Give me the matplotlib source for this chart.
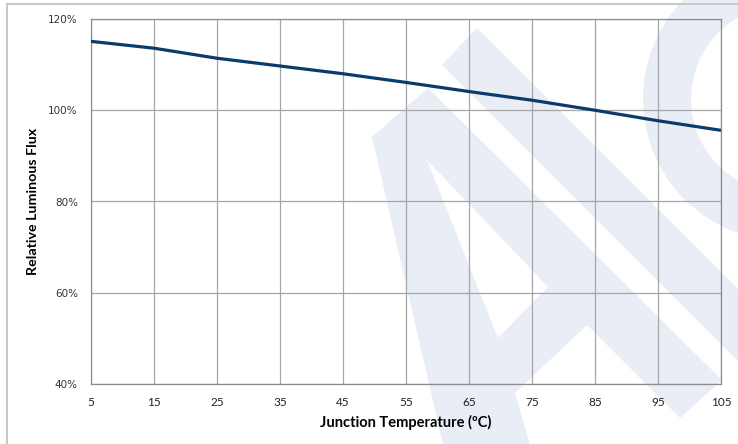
import matplotlib.pyplot as plt
import matplotlib.transforms as mtransforms
from matplotlib.patches import Polygon, Wedge
from matplotlib.lines import Line2D

# junction temperature (deg C) vs relative luminous flux (%)
temps = [5, 15, 25, 35, 45, 55, 65, 75, 85, 95, 105]
flux = [115.1, 113.6, 111.4, 109.7, 108.0, 106.1, 104.1, 102.2, 100.0, 97.7, 95.6]

x_ticks = [5, 15, 25, 35, 45, 55, 65, 75, 85, 95, 105]
y_ticks = [40, 60, 80, 100, 120]

W, H = 738, 444
fig = plt.figure(figsize=(W / 100, H / 100), dpi=100)

# pixel coords (y down) -> figure
px = mtransforms.Affine2D().scale(1 / W, -1 / H).translate(0, 1) + fig.transFigure

wm = "#e8edf6"
# faint logo watermark behind the chart
fig.patches.append(Polygon([(442, 65), (477, 28), (738, 289), (738, 361)],
                           closed=True, transform=px, fc=wm, ec="none", zorder=-2))
fig.patches.append(Polygon([(372, 137), (428, 88), (722, 380), (680, 418), (587, 325),
                            (515, 393), (530, 444), (443, 444)],
                           closed=True, transform=px, fc=wm, ec="none", zorder=-2))
fig.patches.append(Polygon([(427, 160), (548, 287), (498, 338)],
                           closed=True, transform=px, fc="white", ec="none", zorder=-1.5))
fig.patches.append(Wedge((785, 99), 142, 0, 360, width=48, transform=px,
                         fc=wm, ec="none", zorder=-2))

# outer chart border (top and left visible)
fig.lines.append(Line2D([6.5, 738], [4.5, 4.5], transform=px, color="#c9c9c9", lw=1.5))
fig.lines.append(Line2D([6.5, 6.5], [4.5, 444], transform=px, color="#c9c9c9", lw=1.5))

ax = fig.add_axes([91 / W, 1 - 384 / H, 630 / W, 365 / H])
ax.set_facecolor("none")

ax.plot(temps, flux, color="#0a3b6a", lw=2.3, solid_capstyle="butt", zorder=3)

ax.set_xlim(5, 105)
ax.set_ylim(40, 120)
ax.set_xticks(x_ticks)
ax.set_yticks(y_ticks)
ax.set_yticklabels([f"{v}%" for v in y_ticks], fontsize=7.5, color="#333333")
ax.set_xticklabels([str(v) for v in x_ticks], fontsize=8.5, family="Lato", color="#222222")
ax.tick_params(axis="both", length=0)
ax.tick_params(axis="x", pad=9)
ax.tick_params(axis="y", pad=9.5)

ax.grid(True, color="#a6a6a6", lw=0.9)
ax.set_axisbelow(True)
for s in ax.spines.values():
    s.set_color("#8c8c8c")
    s.set_linewidth(0.9)

ax.set_xlabel("Junction Temperature (\u00baC)", fontsize=10.5, family="Lato",
              fontweight="bold", labelpad=5.5)
ax.set_ylabel("Relative Luminous Flux", fontsize=10.3, family="Lato",
              fontweight="bold", labelpad=6.5)

fig.savefig("out.png", dpi=100)
